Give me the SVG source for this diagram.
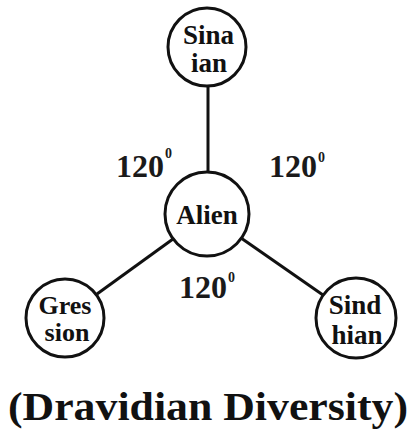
<svg xmlns="http://www.w3.org/2000/svg" width="411" height="434" viewBox="0 0 411 434">
<style>
.node circle { fill: #fff; stroke: #111; stroke-width: 3; }
text { font-family: 'Liberation Serif', 'Times New Roman', Times, serif; font-weight: bold; }
.lbl { font-size: 27px; fill: #111; text-anchor: middle; }
.lbl.sm { font-size: 26px; }
.ang { font-size: 32px; fill: #1a1a1a; }
.sup { font-size: 14px; fill: #1a1a1a; }
.title { font-size: 40px; fill: #111; }
#connectors line { stroke: #111; stroke-width: 3; }
</style>
<rect width="411" height="434" fill="#fff"/>
<g id="connectors">
  <line x1="208" y1="86" x2="208" y2="172"/>
  <line x1="173" y1="239" x2="97" y2="294"/>
  <line x1="241" y1="238" x2="323" y2="295"/>
</g>
<g id="node-sinaian" class="node">
  <circle cx="207" cy="47" r="39"/>
  <text class="lbl" x="208.5" y="44">Sina</text>
  <text class="lbl" x="209" y="72">ian</text>
</g>
<g id="node-alien" class="node">
  <circle cx="207" cy="214" r="42"/>
  <text class="lbl" x="207" y="224">Alien</text>
</g>
<g id="node-gresion" class="node">
  <circle cx="65" cy="318" r="39"/>
  <text class="lbl sm" x="65" y="314">Gres</text>
  <text class="lbl sm" x="67" y="341">sion</text>
</g>
<g id="node-sindhian" class="node">
  <circle cx="356" cy="318" r="40"/>
  <text class="lbl" x="355" y="314">Sind</text>
  <text class="lbl" x="357" y="344">hian</text>
</g>
<g id="angles">
  <text class="ang" x="116" y="177">120</text><text class="sup" x="165" y="158">0</text>
  <text class="ang" x="269" y="177">120</text><text class="sup" x="318" y="162">0</text>
  <text class="ang" x="179" y="298">120</text><text class="sup" x="228" y="282">0</text>
</g>
<text class="title" x="8" y="420" textLength="400" lengthAdjust="spacingAndGlyphs">(Dravidian Diversity)</text>
</svg>
